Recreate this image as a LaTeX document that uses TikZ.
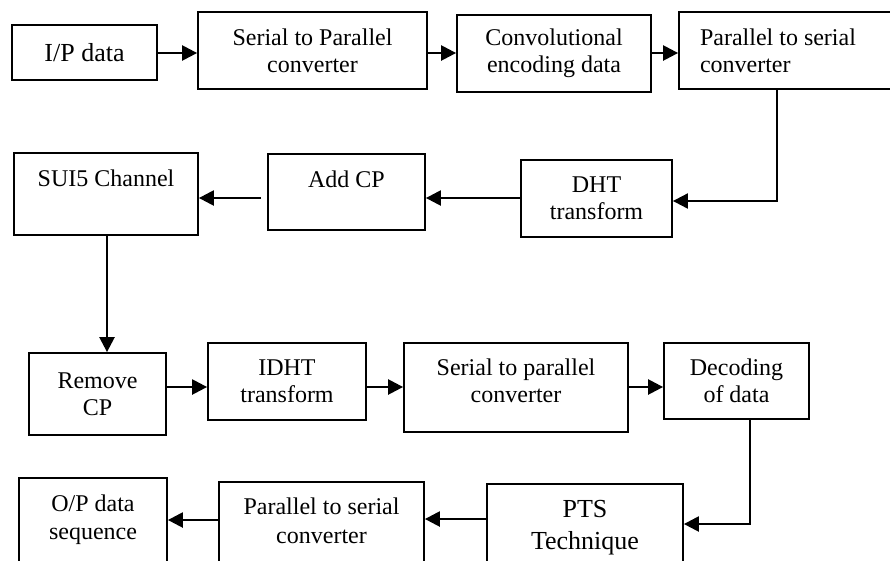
\documentclass[tikz,border=0pt]{standalone}
\usepackage{fontspec}
\setmainfont{Liberation Serif}
\usetikzlibrary{arrows.meta}
\begin{document}
\begin{tikzpicture}[x=1pt,y=-1pt,
  box/.style={draw, line width=1.8pt, inner sep=0pt, font=\fontsize{24}{27}\selectfont, align=center},
  lbl/.style={font=\fontsize{24}{27}\selectfont, align=center, inner sep=0pt, anchor=base},
  conn/.style={line width=2.4pt, -{Triangle[length=15pt,width=15pt]}}]
\useasboundingbox (0,0) rectangle (890,560);
\clip (0,0) rectangle (890,560);
% top row
\node[box, minimum width=145pt, minimum height=55pt, font=\fontsize{26}{29}\selectfont] (ip) at (84.5,52.5) {I/P data};
\node[box, minimum width=229pt, minimum height=77pt] (s2pa) at (312.5,50.5) {Serial to Parallel\\converter};
\node[box, minimum width=194pt, minimum height=77pt] (conv) at (554,53.5) {Convolutional\\encoding data};
\node[box, minimum width=226pt, minimum height=77pt, inner xsep=21pt, text width=184pt, align=flush left] (p2sa) at (792,50.5) {Parallel to serial\\converter};
% second row
\node[box, minimum width=151pt, minimum height=77pt] (dht) at (596.5,198.5) {DHT\\transform};
\node[box, minimum width=157pt, minimum height=76pt, label={[lbl, yshift=-34pt]north:Add CP}] (addcp) at (346.5,192) {};
\node[box, minimum width=184pt, minimum height=82pt, label={[lbl, yshift=-34pt]north:SUI5 Channel}] (sui) at (106,194) {};
% third row
\node[box, minimum width=137pt, minimum height=82pt] (rmcp) at (97.5,394) {Remove\\CP};
\node[box, minimum width=158pt, minimum height=77pt] (idht) at (287,381.5) {IDHT\\transform};
\node[box, minimum width=224pt, minimum height=89pt, label={[lbl, yshift=-60pt]north:Serial to parallel\\converter}] (s2pb) at (516,387.5) {};
\node[box, minimum width=145pt, minimum height=76pt] (dec) at (736.5,381) {Decoding\\of data};
% bottom row
\node[box, minimum width=148pt, minimum height=142pt, label={[lbl, font=\fontsize{24}{28}\selectfont, yshift=-62pt]north:O/P data\\sequence}] (op) at (93,549) {};
\node[box, minimum width=205pt, minimum height=138pt, label={[lbl, font=\fontsize{24}{29}\selectfont, yshift=-62pt]north:Parallel to serial\\converter}] (p2sb) at (321.5,551) {};
\node[box, minimum width=196pt, minimum height=136pt, label={[lbl, font=\fontsize{26}{32}\selectfont, yshift=-66pt]north:PTS\\Technique}] (pts) at (585,552) {};
% connectors
\coordinate (r1) at (0,53);
\coordinate (k1) at (777,201);
\coordinate (r2a) at (0,198);
\coordinate (k2) at (107,300);
\coordinate (r3) at (0,387);
\coordinate (k3) at (750,524);
\coordinate (r4a) at (0,519);
\coordinate (r4b) at (0,520);
\draw[conn] (ip.east |- r1) -- (s2pa.west |- r1);
\draw[conn] (s2pa.east |- r1) -- (conv.west |- r1);
\draw[conn] (conv.east |- r1) -- (p2sa.west |- r1);
\draw[conn, line width=2pt] (k1 |- p2sa.south) -- (k1) -- (dht.east |- k1);
\draw[conn] (dht.west |- r2a) -- (addcp.east |- r2a);
\draw[conn, shorten <=6pt] (addcp.west |- r2a) -- (sui.east |- r2a);
\draw[conn] (k2 |- sui.south) -- (k2 |- rmcp.north);
\draw[conn] (rmcp.east |- r3) -- (idht.west |- r3);
\draw[conn] (idht.east |- r3) -- (s2pb.west |- r3);
\draw[conn] (s2pb.east |- r3) -- (dec.west |- r3);
\draw[conn] (k3 |- dec.south) -- (k3) -- (pts.east |- k3);
\draw[conn] (pts.west |- r4a) -- (p2sb.east |- r4a);
\draw[conn] (p2sb.west |- r4b) -- (op.east |- r4b);
\end{tikzpicture}
\end{document}
